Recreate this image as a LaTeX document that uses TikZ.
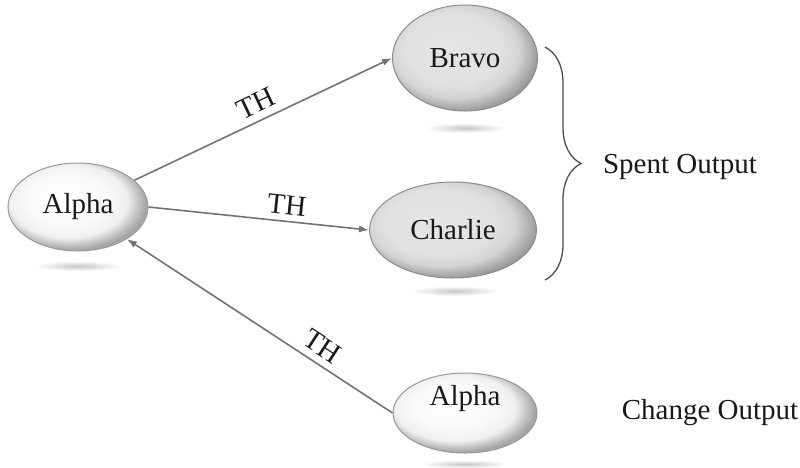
\documentclass[tikz,border=0pt]{standalone}
\usepackage{fontspec}
\setmainfont{Liberation Serif}
\usetikzlibrary{shapes.geometric,arrows.meta,decorations.pathreplacing}

% orb fills, lit from the upper left
\pgfdeclareradialshading{lightorb}{\pgfpoint{-6bp}{6bp}}{%
  color(0bp)=(white); color(14bp)=(black!2); color(21bp)=(black!6);
  color(27bp)=(black!35); color(50bp)=(black!35)}
\pgfdeclareradialshading{darkorb}{\pgfpoint{-6bp}{6bp}}{%
  color(0bp)=(black!10); color(17bp)=(black!12); color(22bp)=(black!17);
  color(28bp)=(black!40); color(50bp)=(black!40)}

\tikzset{
  light/.style={ellipse, draw=black!40, line width=1pt, shading=lightorb},
  dark/.style={ellipse, draw=black!45, line width=1pt, shading=darkorb},
  tx/.style={arrows={-Latex[length=10pt,width=7pt]}, draw=black!55, line width=1.6pt},
  glow/.style={inner color=black!22, outer color=white}
}

\begin{document}
\begin{tikzpicture}
  [x=1pt, y=-1pt, font=\fontsize{29}{34}\selectfont, text=black!90]
    \useasboundingbox (0,0) rectangle (800,467);

    % reflections under the orbs
    \shade[glow] (78,266) ellipse [x radius=44, y radius=5];
    \shade[glow] (465,128) ellipse [x radius=40, y radius=5];
    \shade[glow] (455,291) ellipse [x radius=44, y radius=5];
    \shade[glow] (465,464) ellipse [x radius=44, y radius=4];

    \node[light, minimum width=140, minimum height=88] (a) at (78,207) {Alpha};
    \node[dark, minimum width=145, minimum height=106] (b) at (465,58) {Bravo};
    \node[dark, minimum width=167, minimum height=96] (c) at (453,230) {Charlie};
    \node[light, minimum width=144, minimum height=80,
      label={[yshift=14pt]center:Alpha}] (d) at (465,413) {};

    \draw[tx] (a) -- (b.west) node[midway, above=4pt, sloped] {TH};
    \draw[tx] (a.east) -- (c.west) node[pos=.62, above=3pt, sloped] {TH};
    \draw[tx, arrows={Latex[length=10pt,width=7pt]-}] (a) -- (d.west)
      node[pos=.7, above=4pt, sloped] {TH};

    \coordinate (btop) at (545,47);
    \coordinate (bbot) at (545,280);
    \draw[decorate, decoration={brace, amplitude=36pt}, draw=black!70, line width=1.3pt]
      (btop) -- (bbot);

    \node (spent) at (680,167) {Spent Output};
    \node (change) at (710,413) {Change Output};
  \end{tikzpicture}
\end{document}
